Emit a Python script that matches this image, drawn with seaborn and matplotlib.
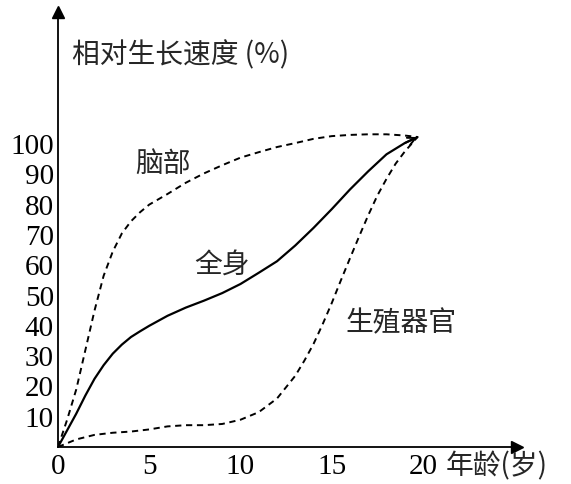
import matplotlib
matplotlib.use("Agg")
import matplotlib.pyplot as plt
import seaborn as sns
import pandas as pd

# ---- data ----
brain_age = [0, 0.5, 1, 1.5, 2, 2.5, 3, 3.5, 4, 4.5, 5, 6, 7, 8, 9, 10, 11, 12, 13, 14, 15, 16, 17, 18, 19, 19.7]
brain_val = [0, 9, 19, 32, 45, 56.5, 64.5, 70.5, 74.5, 77.5, 80, 83.5, 87.2, 90.3, 93, 95.5, 97.3, 99, 100.3, 101.7, 102.6, 103, 103.2, 103.2, 102.8, 102.3]

body_age = [0, 0.5, 1, 1.5, 2, 2.5, 3, 3.5, 4, 4.5, 5, 6, 7, 8, 9, 10, 11, 12, 13, 14, 15, 16, 17, 18, 19, 19.7]
body_val = [0, 5.5, 11, 17, 22.5, 27, 30.8, 33.8, 36.3, 38.2, 40, 43.3, 46, 48.3, 50.8, 53.8, 57.5, 61.3, 66.5, 72.3, 78.5, 85, 91, 96.6, 100.3, 102.3]

repro_age = [0, 1, 2, 3, 4, 5, 6, 7, 8, 9, 10, 11, 12, 13, 13.5, 14, 14.5, 15, 15.5, 16, 16.5, 17, 17.5, 18, 18.5, 19, 19.7]
repro_val = [0, 2.5, 4, 4.7, 5.1, 5.8, 6.8, 7.2, 7.2, 7.6, 9, 11.5, 16, 23.5, 28.5, 34, 40.5, 47.5, 55, 62.3, 69.5, 76.5, 83, 88.5, 93.5, 97.5, 102.3]

x_ticks = [0, 5, 10, 15, 20]
y_ticks = [10, 20, 30, 40, 50, 60, 70, 80, 90, 100]

labels = ["脑部", "全身", "生殖器官"]
y_title = "相对生长速度 (%)"
x_title = "年龄(岁)"

sns.set_style("white")
plt.rcParams['font.family'] = ['Noto Sans CJK SC', 'DejaVu Sans']

fig = plt.figure(figsize=(5.71, 4.84), dpi=100)
ax = fig.add_axes([58/571, 37/484, (517-58)/571, (447-12)/484])

df_b = pd.DataFrame({"age": brain_age, "val": brain_val})
df_w = pd.DataFrame({"age": body_age, "val": body_val})
df_r = pd.DataFrame({"age": repro_age, "val": repro_val})

dash = (0, (3.2, 2.4))
sns.lineplot(data=df_b, x="age", y="val", ax=ax, color="black", lw=1.4, sort=False)
sns.lineplot(data=df_w, x="age", y="val", ax=ax, color="black", lw=1.6, sort=False)
sns.lineplot(data=df_r, x="age", y="val", ax=ax, color="black", lw=1.4, sort=False)
ax.lines[0].set_linestyle(dash)
ax.lines[2].set_linestyle(dash)
for ln in ax.lines:
    ln.set_solid_joinstyle("round")
    ln.set_dash_joinstyle("round")

# arrow head at convergence point
ax.annotate("", xy=(body_age[-1], body_val[-1]), xytext=(body_age[-2], body_val[-2]),
            arrowprops=dict(arrowstyle="->", color="black", lw=1.4, mutation_scale=14,
                            shrinkA=0, shrinkB=0))

ax.set_xlim(0, (517-58)/18.25)
ax.set_ylim(0, (447-12)/3.03)
ax.set_xticks(x_ticks)
ax.set_yticks(y_ticks)
ax.set_xlabel("")
ax.set_ylabel("")

for s in ["top", "right"]:
    ax.spines[s].set_visible(False)
for s in ["left", "bottom"]:
    ax.spines[s].set_color("black")
    ax.spines[s].set_linewidth(1.3)

ax.tick_params(axis="both", direction="in", length=5, width=1.1, colors="black")
ax.tick_params(axis="y", pad=3)
ax.tick_params(axis="x", pad=5)
for t in ax.get_xticklabels() + ax.get_yticklabels():
    t.set_fontfamily("Liberation Serif")
    t.set_fontsize(21)

# axis arrows
ax.plot(1, 0, ">k", transform=ax.transAxes, clip_on=False, markersize=9)
ax.plot(0, 1, "^k", transform=ax.transAxes, clip_on=False, markersize=9)

# curve labels
ax.text(5.75, 93.4, labels[0], fontsize=20, ha="center", va="center")
ax.text(9.0, 60.0, labels[1], fontsize=20, ha="center", va="center")
ax.text(18.8, 41.0, labels[2], fontsize=20, ha="center", va="center")

fig.text(72/571, 1 - 55/484, y_title, fontsize=20, ha="left", va="center",
         family=['Noto Sans CJK SC', 'DejaVu Sans'])
fig.text(446/571, 1 - 466/484, x_title, fontsize=20, ha="left", va="center",
         family=['Noto Sans CJK SC', 'DejaVu Sans'])

fig.savefig("out.png", dpi=100)
